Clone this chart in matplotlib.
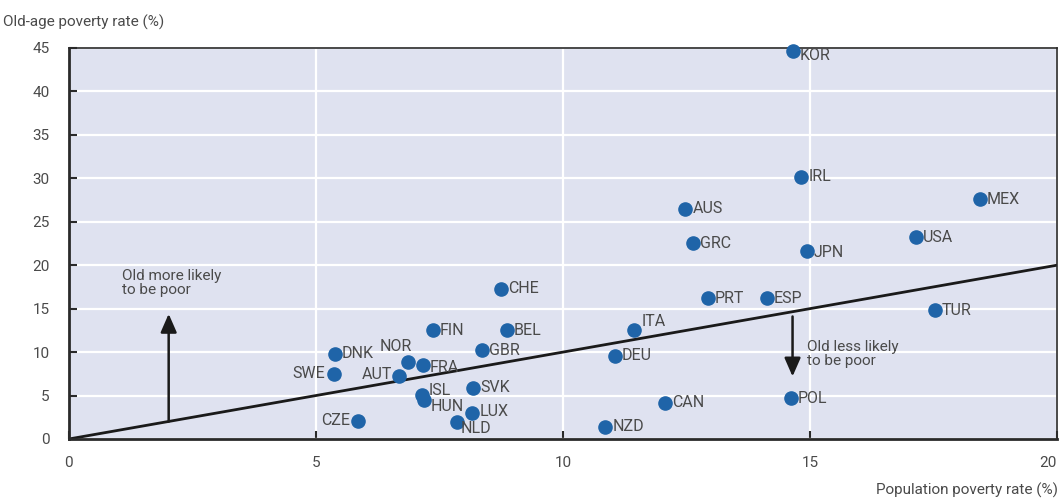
import matplotlib.pyplot as plt

# data
countries = ['KOR', 'IRL', 'MEX', 'AUS', 'GRC', 'JPN', 'USA', 'CHE', 'PRT', 'ESP',
             'TUR', 'ITA', 'DEU', 'CAN', 'POL', 'NZD', 'FIN', 'BEL', 'GBR', 'DNK',
             'SWE', 'NOR', 'FRA', 'AUT', 'ISL', 'HUN', 'SVK', 'LUX', 'NLD', 'CZE']
pop_rate = [14.65, 14.83, 18.44, 12.48, 12.63, 14.94, 17.14, 8.75, 12.94, 14.13,
            17.53, 11.45, 11.05, 12.07, 14.62, 10.86, 7.37, 8.87, 8.36, 5.38,
            5.36, 6.86, 7.16, 6.69, 7.14, 7.18, 8.18, 8.17, 7.85, 5.86]
old_rate = [44.6, 30.2, 27.6, 26.5, 22.5, 21.6, 23.2, 17.3, 16.2, 16.2,
            14.8, 12.6, 9.6, 4.2, 4.7, 1.4, 12.5, 12.5, 10.2, 9.8,
            7.5, 8.9, 8.5, 7.3, 5.1, 4.5, 5.9, 3.0, 2.0, 2.1]

x_ticks = [0, 5, 10, 15, 20]
y_ticks = [0, 5, 10, 15, 20, 25, 30, 35, 40, 45]

# label offsets (points) and alignment
offsets = {
    'KOR': (5, -3, 'left'), 'SWE': (-6, 0, 'right'), 'CZE': (-6, 0, 'right'),
    'AUT': (-5, 1, 'right'), 'NOR': (-20, 11, 'left'), 'FRA': (5, -2, 'left'),
    'ISL': (5, 3, 'left'), 'HUN': (5, -5, 'left'), 'NLD': (3, -5, 'left'),
    'ITA': (5, 6, 'left'), 'JPN': (5, -1, 'left'), 'LUX': (5, 1, 'left'),
}

plt.rcParams['font.family'] = ['Roboto', 'DejaVu Sans']
text_col = '#4a4a4a'
dot_col = '#1f64a8'

fig = plt.figure(figsize=(10.6, 5.0), dpi=100)
ax = fig.add_axes([0.065, 0.122, 0.932, 0.782])
ax.set_facecolor('#dfe2f0')

ax.set_xlim(0, 20)
ax.set_ylim(0, 45)
ax.set_xticks(x_ticks)
ax.set_yticks(y_ticks)
ax.grid(True, color='white', linewidth=1.6)
ax.set_axisbelow(True)

for s in ax.spines.values():
    s.set_color('#2a2a2a')
    s.set_linewidth(1.2)
ax.spines['left'].set_linewidth(2)
ax.spines['bottom'].set_linewidth(2)

ax.tick_params(axis='both', direction='in', length=6, width=1.5, color='#2a2a2a',
               labelsize=11, labelcolor=text_col, pad=12)
ax.tick_params(axis='y', pad=14)
ax.get_xticklabels()[-1].set_horizontalalignment('right')

# 45-degree line
ax.plot([0, 20], [0, 20], color='#1a1a1a', linewidth=2, zorder=2)

ax.scatter(pop_rate, old_rate, s=90, color=dot_col, zorder=4, clip_on=False)

for c, x, y in zip(countries, pop_rate, old_rate):
    dx, dy, ha = offsets.get(c, (5, 0, 'left'))
    ax.annotate(c, (x, y), xytext=(dx, dy), textcoords='offset points',
                ha=ha, va='center', fontsize=11.5, color=text_col, zorder=5,
                annotation_clip=False)

# arrows
ax.annotate('', xy=(2.02, 14.4), xytext=(2.02, 2.0),
            arrowprops=dict(arrowstyle='-|>,head_width=0.35,head_length=0.8',
                            color='#1a1a1a', lw=1.8, mutation_scale=14,
                            shrinkA=0, shrinkB=0))
ax.text(1.07, 19.6, 'Old more likely\nto be poor', fontsize=11, color=text_col,
        va='top', ha='left', linespacing=1.0)

ax.annotate('', xy=(14.65, 7.2), xytext=(14.65, 14.1),
            arrowprops=dict(arrowstyle='-|>,head_width=0.35,head_length=0.8',
                            color='#1a1a1a', lw=1.8, mutation_scale=14,
                            shrinkA=0, shrinkB=0))
ax.text(14.95, 11.4, 'Old less likely\nto be poor', fontsize=11, color=text_col,
        va='top', ha='left', linespacing=1.0)

fig.text(0.003, 0.955, 'Old-age poverty rate (%)', fontsize=11, color=text_col,
         ha='left', va='center')
fig.text(0.998, 0.02, 'Population poverty rate (%)', fontsize=11, color=text_col,
         ha='right', va='center')

fig.savefig('out.png', dpi=100)
